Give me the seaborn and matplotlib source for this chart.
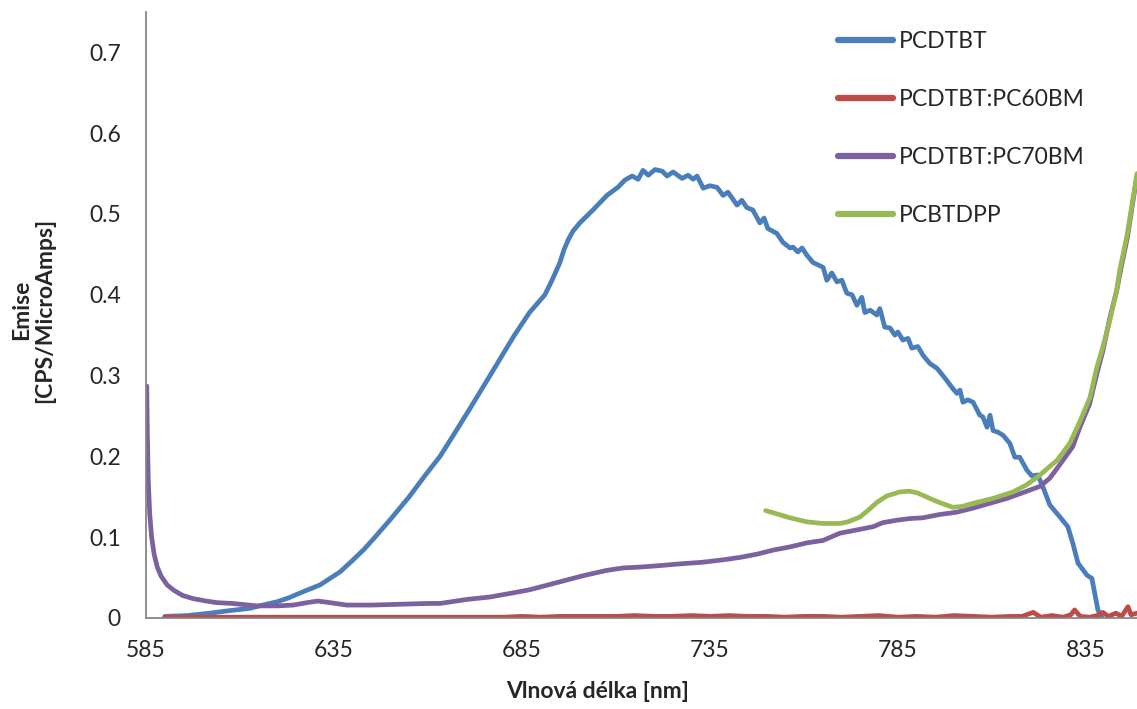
import numpy as np
import pandas as pd
import matplotlib
matplotlib.use("Agg")
import matplotlib.pyplot as plt
import seaborn as sns

# PCDTBT
blue_x = [590, 596, 602, 607, 612.7, 616, 619.8, 623, 626, 631.3, 636.6, 640.1, 643, 645.9,
          650, 655, 659, 663.2, 667, 671, 676.5, 680, 683, 687, 691.1, 693, 695.1, 696.2, 697.4,
          698.6, 700.4, 703.9, 707.6, 710.5, 712.4, 714.3, 715.9, 717.2, 718.6, 720.4, 722.3,
          723.6, 725.2, 727.6, 729.2, 730.5, 731.6, 733.2, 735.0, 736.9, 738.5, 739.8, 742.2,
          743.5, 744.8, 746.4, 748.3, 749.4, 750.4, 752.8, 754.4, 756.3, 757.1, 758.4, 759.5,
          760.8, 762.4, 765.1, 766.1, 767.4, 768.8, 770.1, 771.4, 772.8, 774.1, 775.4, 776.2,
          777.6, 779.4, 780.2, 781.5, 782.9, 784.2, 785.0, 786.3, 787.7, 788.7, 790.3, 791.7,
          793.5, 795.4, 797.5, 799.6, 800.7, 801.5, 802.3, 803.6, 805.0, 806.8, 807.6, 808.7,
          809.5, 810.3, 811.6, 813.0, 814.8, 816.1, 817.4, 819.3, 820.6, 822.2, 823.6, 825.4,
          828.1, 830.2, 831.5, 832.9, 835.3, 836.6, 838.2, 839.3]
blue_y = [0.002, 0.003, 0.006, 0.009, 0.012, 0.016, 0.020, 0.025, 0.031, 0.041, 0.057, 0.072,
          0.085, 0.100, 0.122, 0.150, 0.175, 0.200, 0.228, 0.258, 0.300, 0.327, 0.350, 0.378,
          0.400, 0.418, 0.440, 0.456, 0.469, 0.479, 0.489, 0.505, 0.523, 0.533, 0.542, 0.547,
          0.543, 0.554, 0.548, 0.555, 0.553, 0.547, 0.552, 0.544, 0.548, 0.543, 0.547, 0.532,
          0.535, 0.533, 0.523, 0.527, 0.511, 0.517, 0.508, 0.505, 0.489, 0.495, 0.482, 0.476,
          0.465, 0.458, 0.459, 0.453, 0.458, 0.449, 0.440, 0.434, 0.418, 0.427, 0.416, 0.418,
          0.402, 0.400, 0.387, 0.397, 0.378, 0.381, 0.375, 0.383, 0.360, 0.359, 0.350, 0.354,
          0.344, 0.346, 0.334, 0.336, 0.325, 0.315, 0.309, 0.297, 0.284, 0.278, 0.282, 0.267,
          0.270, 0.267, 0.251, 0.249, 0.236, 0.251, 0.232, 0.230, 0.226, 0.216, 0.199, 0.199,
          0.183, 0.176, 0.177, 0.162, 0.140, 0.125, 0.113, 0.093, 0.068, 0.053, 0.049, 0.010,
          0.0]

# PCDTBT:PC60BM
red_x = [590, 595, 600, 605, 610, 615, 620, 625, 630, 635, 640, 645, 650, 655, 660, 665, 670,
         675, 680, 685, 690, 695, 700, 705, 710, 715, 720, 725, 730, 735, 740, 745, 750, 755,
         760, 765, 770, 775, 780, 785, 790, 795, 800, 805, 810, 815, 818, 821, 823, 826, 829,
         831, 832, 833.5, 836, 838, 839.5, 841, 843, 844.5, 846.2, 847, 848.6]
red_y = [0.001, 0.001, 0.001, 0.001, 0.001, 0.001, 0.001, 0.001, 0.001, 0.001, 0.001, 0.001,
         0.001, 0.001, 0.001, 0.001, 0.001, 0.001, 0.001, 0.002, 0.001, 0.002, 0.002, 0.002,
         0.002, 0.003, 0.002, 0.002, 0.003, 0.002, 0.003, 0.002, 0.002, 0.001, 0.002, 0.002,
         0.001, 0.002, 0.003, 0.001, 0.002, 0.001, 0.003, 0.002, 0.001, 0.002, 0.002, 0.007,
         0.001, 0.003, 0.001, 0.004, 0.010, 0.002, 0.001, 0.003, 0.007, 0.002, 0.006, 0.002,
         0.014, 0.004, 0.006]

# PCDTBT:PC70BM
purple_x = [585.2, 585.35, 585.6, 586.0, 586.5, 587.2, 588.0, 589.0, 590.6, 592.5, 594.7, 597.5,
            601, 603.9, 608, 614.5, 620, 624.1, 627.8, 630.7, 633.9, 638.4, 645, 652.5, 660,
            663.2, 670.4, 676.5, 683.7, 687.1, 692, 696.9, 701, 705.7, 707.6, 712, 716.4, 722,
            727.0, 733, 738.5, 743, 747.5, 751.8, 756.3, 760.8, 765.1, 769.6, 774.1, 778.4, 781,
            784.7, 788, 791.6, 796, 800.7, 805, 809.5, 814, 818.2, 822.8, 825.4, 828.1, 831.5,
            833.4, 836, 837.9, 839.5, 841.4, 843.2, 844, 846, 848.6]
purple_y = [0.287, 0.230, 0.170, 0.128, 0.100, 0.078, 0.063, 0.052, 0.041, 0.034, 0.028, 0.024,
            0.021, 0.019, 0.018, 0.015, 0.015, 0.016, 0.019, 0.021, 0.019, 0.016, 0.016, 0.017,
            0.018, 0.018, 0.023, 0.026, 0.032, 0.035, 0.041, 0.047, 0.052, 0.057, 0.059, 0.062,
            0.063, 0.065, 0.067, 0.069, 0.072, 0.075, 0.079, 0.084, 0.088, 0.093, 0.096, 0.105,
            0.109, 0.113, 0.118, 0.121, 0.123, 0.124, 0.128, 0.131, 0.136, 0.142, 0.148, 0.155,
            0.163, 0.173, 0.190, 0.212, 0.236, 0.265, 0.302, 0.330, 0.372, 0.405, 0.425, 0.470,
            0.548]

# PCBTDPP
green_x = [749.8, 752, 756.3, 760.8, 765, 769.6, 771.7, 774.9, 777, 779.4, 782, 785.5, 788,
           790.1, 793.5, 796, 799.6, 802, 805.0, 810.3, 815.6, 819.3, 822.8, 825, 827.3, 830.7,
           833.4, 836.1, 837.9, 839.5, 841.4, 843.2, 844, 846, 848.6]
green_y = [0.133, 0.130, 0.124, 0.119, 0.117, 0.117, 0.119, 0.125, 0.133, 0.143, 0.151, 0.156,
           0.157, 0.155, 0.148, 0.143, 0.137, 0.138, 0.142, 0.148, 0.156, 0.165, 0.177, 0.186,
           0.195, 0.216, 0.243, 0.273, 0.310, 0.335, 0.369, 0.406, 0.430, 0.475, 0.550]

series_names = ["PCDTBT", "PCDTBT:PC60BM", "PCDTBT:PC70BM", "PCBTDPP"]
series_colors = ["#4A7EBB", "#BE4B48", "#7D60A0", "#98B954"]
x_ticks = [585, 635, 685, 735, 785, 835]
y_ticks = [0, 0.1, 0.2, 0.3, 0.4, 0.5, 0.6, 0.7]

df = pd.concat([
    pd.DataFrame({"x": blue_x, "y": blue_y, "serie": series_names[0]}),
    pd.DataFrame({"x": red_x, "y": red_y, "serie": series_names[1]}),
    pd.DataFrame({"x": purple_x, "y": purple_y, "serie": series_names[2]}),
    pd.DataFrame({"x": green_x, "y": green_y, "serie": series_names[3]}),
])

sns.set_style("white")
plt.rcParams["font.family"] = ["Lato", "DejaVu Sans"]

fig = plt.figure(figsize=(11.37, 7.09), dpi=100)
ax = fig.add_axes([146 / 1137, 91 / 709, 991 / 1137, 606 / 709])

sns.lineplot(data=df, x="x", y="y", hue="serie", hue_order=series_names,
             palette=dict(zip(series_names, series_colors)), estimator=None,
             sort=False, linewidth=3.4, ax=ax)

ax.set_xlim(585, 848.6)
ax.set_ylim(0, 0.75)
ax.set_xticks(x_ticks)
ax.set_yticks(y_ticks)
ax.set_yticklabels([f"{v:g}" for v in y_ticks])

grey = "#868686"
for s in ["top", "right"]:
    ax.spines[s].set_visible(False)
for s in ["left", "bottom"]:
    ax.spines[s].set_color(grey)
    ax.spines[s].set_linewidth(1.3)
ax.tick_params(axis="x", direction="out", length=6, width=1.3, color=grey,
               labelsize=16.5, pad=10)
ax.tick_params(axis="y", direction="out", length=6, width=1.3, color=grey,
               labelsize=16.5, pad=12)

ax.set_xlabel("Vlnová délka [nm]", fontsize=16.5, fontweight="bold", va="center")
ax.xaxis.set_label_coords(0.456, -0.122)
ax.set_ylabel("Emise\n[CPS/MicroAmps]", fontsize=16.5, fontweight="bold",
              va="center", ha="center", linespacing=1.15)
ax.yaxis.set_label_coords(-0.114, 0.508)

ax.get_legend().remove()
handles, labels = ax.get_legend_handles_labels()
leg = fig.legend(handles, labels, loc="upper left", bbox_to_anchor=(838 / 1137, 1 - 31 / 709),
                 frameon=False, fontsize=16.5, handlelength=2.4, handletextpad=0.25,
                 labelspacing=1.62, borderpad=0, borderaxespad=0)
for line in leg.get_lines():
    line.set_linewidth(4.5)
    line.set_solid_capstyle("round")

fig.savefig("out.png", dpi=100)
